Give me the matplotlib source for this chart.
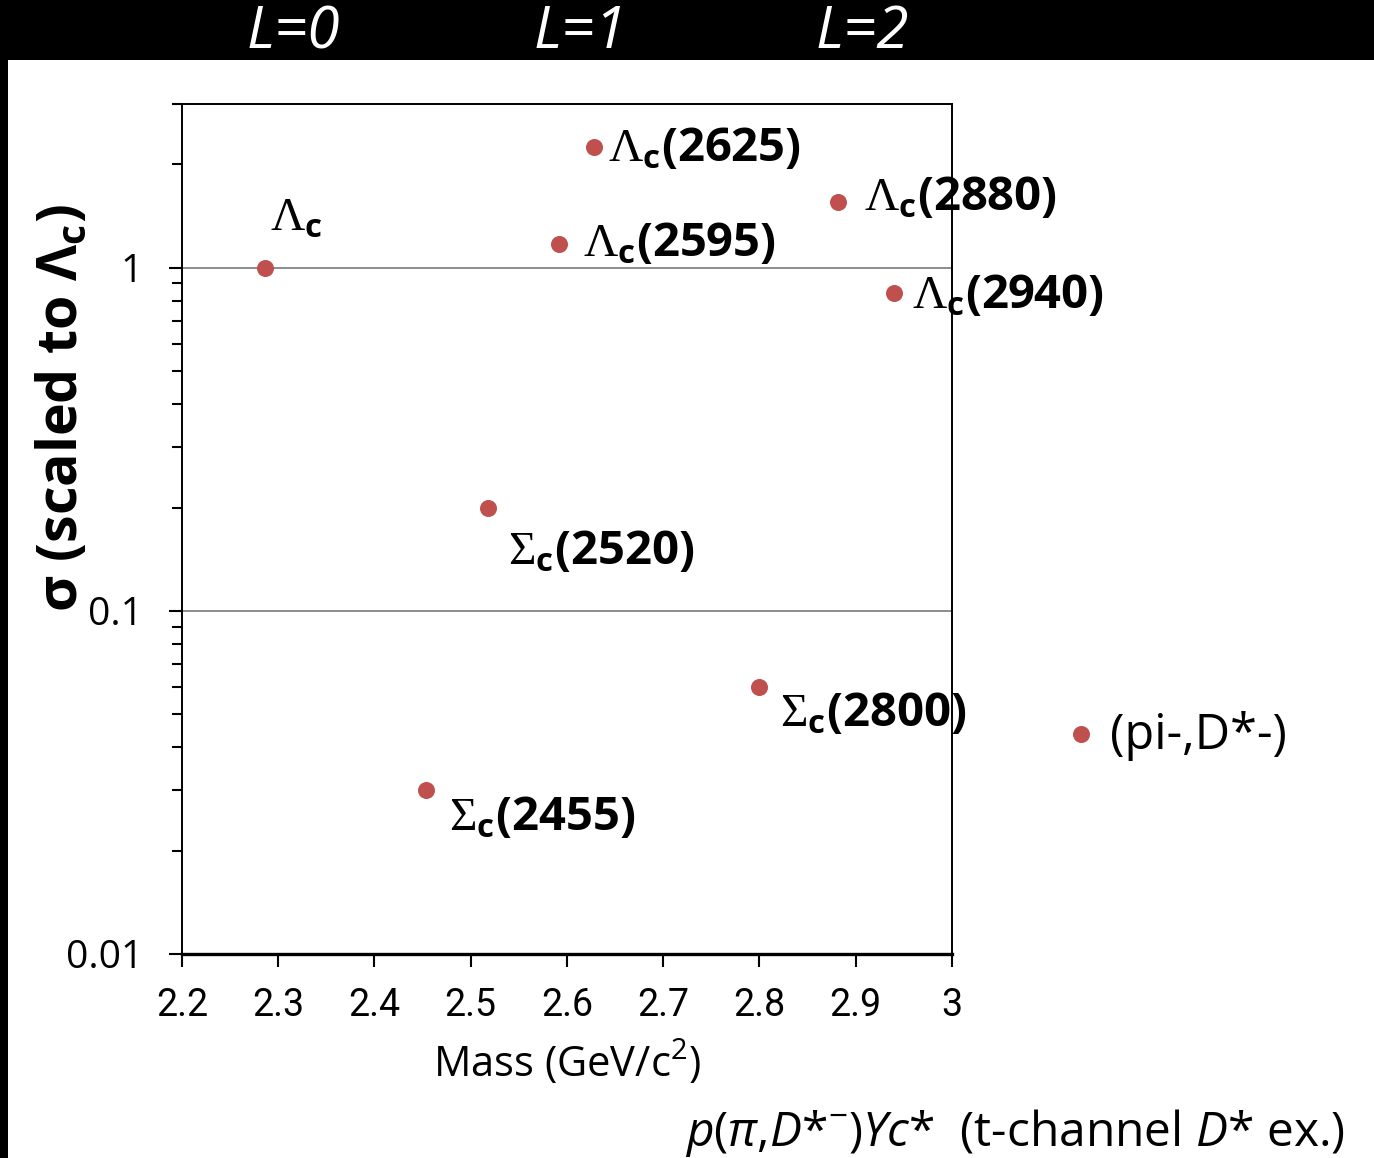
import matplotlib
matplotlib.use("Agg")
import matplotlib.pyplot as plt
from matplotlib.patches import Rectangle
from matplotlib.ticker import FixedLocator, FixedFormatter, LogLocator, NullFormatter

plt.rcParams['font.family'] = ['Open Sans', 'DejaVu Sans']
plt.rcParams['mathtext.fontset'] = 'custom'
plt.rcParams['mathtext.rm'] = 'Liberation Serif'
plt.rcParams['mathtext.it'] = 'Open Sans:italic'
plt.rcParams['mathtext.bf'] = 'Open Sans:bold'

# charmed baryon states: mass (GeV/c^2) and cross section relative to Lambda_c
states = [r'$\Lambda_\mathbf{c}$', r'$\Lambda_\mathbf{c}$(2625)', r'$\Lambda_\mathbf{c}$(2595)',
          r'$\Lambda_\mathbf{c}$(2880)', r'$\Lambda_\mathbf{c}$(2940)', r'$\Sigma_\mathbf{c}$(2520)',
          r'$\Sigma_\mathbf{c}$(2800)', r'$\Sigma_\mathbf{c}$(2455)']
mass = [2.286, 2.628, 2.592, 2.882, 2.940, 2.518, 2.800, 2.453]
sigma = [1.0, 2.25, 1.17, 1.55, 0.845, 0.20, 0.060, 0.030]

# pi-, D*- point drawn outside the axis range
ref_label = '(pi-,D*-)'
ref_mass = 3.134
ref_sigma = 0.0438

xticks = [2.2, 2.3, 2.4, 2.5, 2.6, 2.7, 2.8, 2.9, 3.0]
xticklabels = ['2.2', '2.3', '2.4', '2.5', '2.6', '2.7', '2.8', '2.9', '3']
yticks = [0.01, 0.1, 1]
yticklabels = ['0.01', '0.1', '1']
orbital = ['L=0', 'L=1', 'L=2']

W, H = 1374, 1158
px = 0.72  # points per pixel at dpi 100

fig = plt.figure(figsize=(W / 100, H / 100), dpi=100)
fig.patch.set_facecolor('white')
# black frame along top and left edge
fig.patches.append(Rectangle((0, 1 - 60 / H), 1, 60 / H, transform=fig.transFigure,
                             facecolor='black', edgecolor='none', zorder=0))
fig.patches.append(Rectangle((0, 0), 8 / W, 1, transform=fig.transFigure,
                             facecolor='black', edgecolor='none', zorder=0))

ax = fig.add_axes([182 / W, 204 / H, 770 / W, 850 / H])
ax.set_xlim(2.2, 3.0)
ax.set_yscale('log')
ax.set_ylim(0.01, 3.0)

for v in [0.1, 1]:
    ax.axhline(v, color='#8c8c8c', lw=1.4, zorder=1)

red = '#C0504D'
ax.scatter(mass, sigma, s=150, color=red, zorder=3, clip_on=False, linewidths=0)
ax.scatter([ref_mass], [ref_sigma], s=150, color=red, zorder=3, clip_on=False, linewidths=0)

offsets = [(5, 50), (14, -2), (24, 1), (26, 5), (18, -3), (20, -44), (21, -27), (23, -27)]
for name, x, y, (dx, dy) in zip(states, mass, sigma, offsets):
    ax.annotate(name, (x, y), xytext=(dx * px, dy * px), textcoords='offset points',
                ha='left', va='center', fontsize=34, fontweight='bold',
                annotation_clip=False)
ax.annotate(ref_label, (ref_mass, ref_sigma), xytext=(29 * px, -2 * px),
            textcoords='offset points', ha='left', va='center', fontsize=35,
            annotation_clip=False)

ax.xaxis.set_major_locator(FixedLocator(xticks))
ax.xaxis.set_major_formatter(FixedFormatter(xticklabels))
ax.yaxis.set_major_locator(FixedLocator(yticks))
ax.yaxis.set_major_formatter(FixedFormatter(yticklabels))
ax.yaxis.set_minor_locator(LogLocator(base=10, subs=range(2, 10)))
ax.yaxis.set_minor_formatter(NullFormatter())

ax.tick_params(axis='x', which='major', direction='out', length=13 * px, width=1.5,
               labelsize=27, pad=20 * px)
ax.tick_params(axis='y', which='major', direction='out', length=13 * px, width=1.5,
               labelsize=28, pad=26 * px)
ax.tick_params(axis='y', which='minor', direction='out', length=10 * px, width=1.5)
for lab in ax.get_xticklabels():
    lab.set_family(['Roboto', 'DejaVu Sans'])
for side in ['left', 'right', 'top']:
    ax.spines[side].set_linewidth(1.4)
ax.spines['bottom'].set_linewidth(2.4)

ax.set_xlabel(r'Mass (GeV/c$^\mathregular{2}$)', fontsize=30, labelpad=11)
fig.text(62 / W, 1 - 408 / H, r'σ (scaled to $\mathbf{\Lambda_c}$)', rotation=90,
         ha='center', va='center', fontsize=40, fontweight='bold')

for lab, xp in zip(orbital, [293, 580, 862]):
    fig.text(xp / W, 1 - 33 / H, lab, color='white', fontsize=42, style='italic',
             ha='center', va='center')

fig.text(1345 / W, 1 - 1133 / H,
         r'$p$($\pi$,$D$*$^\mathregular{-}$)$Yc$*  (t-channel $D$* ex.)',
         ha='right', va='center', fontsize=34.5)

fig.savefig('out.png', dpi=100)
